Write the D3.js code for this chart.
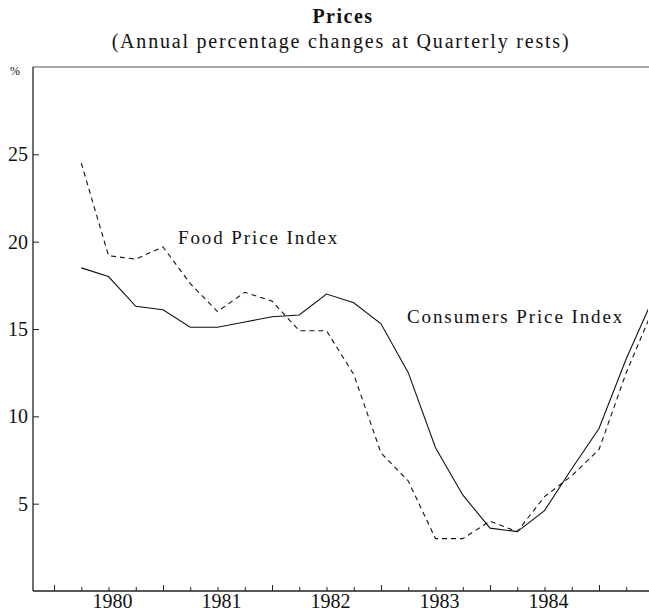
<!DOCTYPE html>
<html>
<head>
<meta charset="utf-8">
<script src="https://cdn.jsdelivr.net/npm/d3@7"></script>
<style>
  body { margin:0; background:white; }
  text { font-family: "Liberation Serif", "DejaVu Serif", serif; fill:#111; }
</style>
</head>
<body>
<div id="chart"></div>
<script>
// quarterly data, plotted at end of each quarter
var quarters = [1980.25,1980.5,1980.75,1981,1981.25,1981.5,1981.75,1982,
                1982.25,1982.5,1982.75,1983,1983.25,1983.5,1983.75,1984,
                1984.25,1984.5,1984.75,1985,1985.25,1985.5]
var cpi  = [18.5,18.0,16.3,16.1,15.1,15.1,15.4,15.7,15.8,17.0,16.5,15.3,
            12.5,8.2,5.5,3.6,3.4,4.6,7.0,9.3,13.3,16.8]
var food = [24.5,19.2,19.0,19.7,17.6,16.0,17.1,16.6,14.9,14.9,12.4,7.9,
            6.3,3.0,3.0,4.0,3.4,5.4,6.6,8.1,12.5,16.2]
var years = [1980,1981,1982,1983,1984]
var yTicks = [5,10,15,20,25]

class chart {
  constructor(parent){
    this.parent = parent
    this.width = 649
    this.height = 612
    this.left = 33
    this.right = 649
    this.top = 67
    this.bottom = 591
    this.draw()
  }
  draw(){
    this.svg = this.parent.append('svg')
                  .attr("width",this.width)
                  .attr("height",this.height)
    this.x = d3.scaleLinear().domain([1980,1985]).range([54,599])
    this.y = d3.scaleLinear().domain([0,30]).range([this.bottom,this.top])

    // title
    this.svg.append("text")
                  .attr("x",343).attr("y",23)
                  .attr("text-anchor","middle")
                  .attr("font-size",20).attr("font-weight","bold")
                  .attr("letter-spacing",1.5)
                  .text("Prices")
    this.svg.append("text")
                  .attr("x",341).attr("y",48)
                  .attr("text-anchor","middle")
                  .attr("font-size",20)
                  .attr("letter-spacing",1.8)
                  .text("(Annual percentage changes at Quarterly rests)")

    // frame: top rule, left and bottom axes
    this.svg.append("line")
                  .attr("x1",this.left).attr("x2",this.right)
                  .attr("y1",this.top).attr("y2",this.top)
                  .attr("stroke","#555").attr("stroke-width",1)
    this.svg.append("text")
                  .attr("x",15).attr("y",this.top+8)
                  .attr("text-anchor","middle")
                  .attr("font-size",12)
                  .text("%")

    var yAxis = d3.axisRight(this.y).tickValues(yTicks).tickSize(6).tickFormat("")
    var gy = this.svg.append("g")
                  .attr("transform","translate("+this.left+",0)")
                  .call(yAxis)
    gy.select(".domain").remove()
    gy.selectAll("line").attr("stroke","#222")
    this.svg.append("line")
                  .attr("x1",this.left).attr("x2",this.left)
                  .attr("y1",this.top).attr("y2",this.bottom)
                  .attr("stroke","#222").attr("stroke-width",1.3)
    this.svg.selectAll(".ylab").data(yTicks).enter().append("text")
                  .attr("class","ylab")
                  .attr("x",this.left-5)
                  .attr("y",d => this.y(d)+7)
                  .attr("text-anchor","end")
                  .attr("font-size",20)
                  .text(d => d)

    // bottom axis with quarter ticks
    var qTicks = d3.range(1980,1985.6,0.25)
    var xAxis = d3.axisBottom(this.x).tickValues(qTicks)
                  .tickSize(-4).tickFormat("")
    var gx = this.svg.append("g")
                  .attr("transform","translate(0,"+this.bottom+")")
                  .call(xAxis)
    gx.select(".domain").remove()
    gx.selectAll(".tick line")
                  .attr("stroke","#222")
                  .attr("y2",d => (d%1==0) ? -6 : -4)
    this.svg.append("line")
                  .attr("x1",this.left).attr("x2",this.right)
                  .attr("y1",this.bottom).attr("y2",this.bottom)
                  .attr("stroke","#222").attr("stroke-width",1.3)
    this.svg.selectAll(".xlab").data(years).enter().append("text")
                  .attr("class","xlab")
                  .attr("x",d => this.x(d+0.5)+4)
                  .attr("y",this.bottom+17)
                  .attr("text-anchor","middle")
                  .attr("font-size",20)
                  .text(d => d)

    // series
    this.svg.append("clipPath").attr("id","plot")
                  .append("rect")
                  .attr("x",this.left).attr("y",this.top)
                  .attr("width",this.right-this.left-1)
                  .attr("height",this.bottom-this.top)
    var line = d3.line().x(d => this.x(d[0])).y(d => this.y(d[1]))
    this.svg.append("path")
                  .datum(d3.zip(quarters,food))
                  .attr("d",line)
                  .attr("clip-path","url(#plot)")
                  .attr("fill","none").attr("stroke","#111")
                  .attr("stroke-width",1.1)
                  .attr("stroke-dasharray","5,4")
    this.svg.append("path")
                  .datum(d3.zip(quarters,cpi))
                  .attr("d",line)
                  .attr("clip-path","url(#plot)")
                  .attr("fill","none").attr("stroke","#111")
                  .attr("stroke-width",1.1)

    // series labels
    this.svg.append("text")
                  .attr("x",178).attr("y",244)
                  .attr("font-size",19)
                  .attr("letter-spacing",1.9)
                  .text("Food Price Index")
    this.svg.append("text")
                  .attr("x",407).attr("y",323)
                  .attr("font-size",19)
                  .attr("letter-spacing",1.9)
                  .text("Consumers Price Index")
  }
}

var c = new chart(d3.select("#chart"))
</script>
</body>
</html>
